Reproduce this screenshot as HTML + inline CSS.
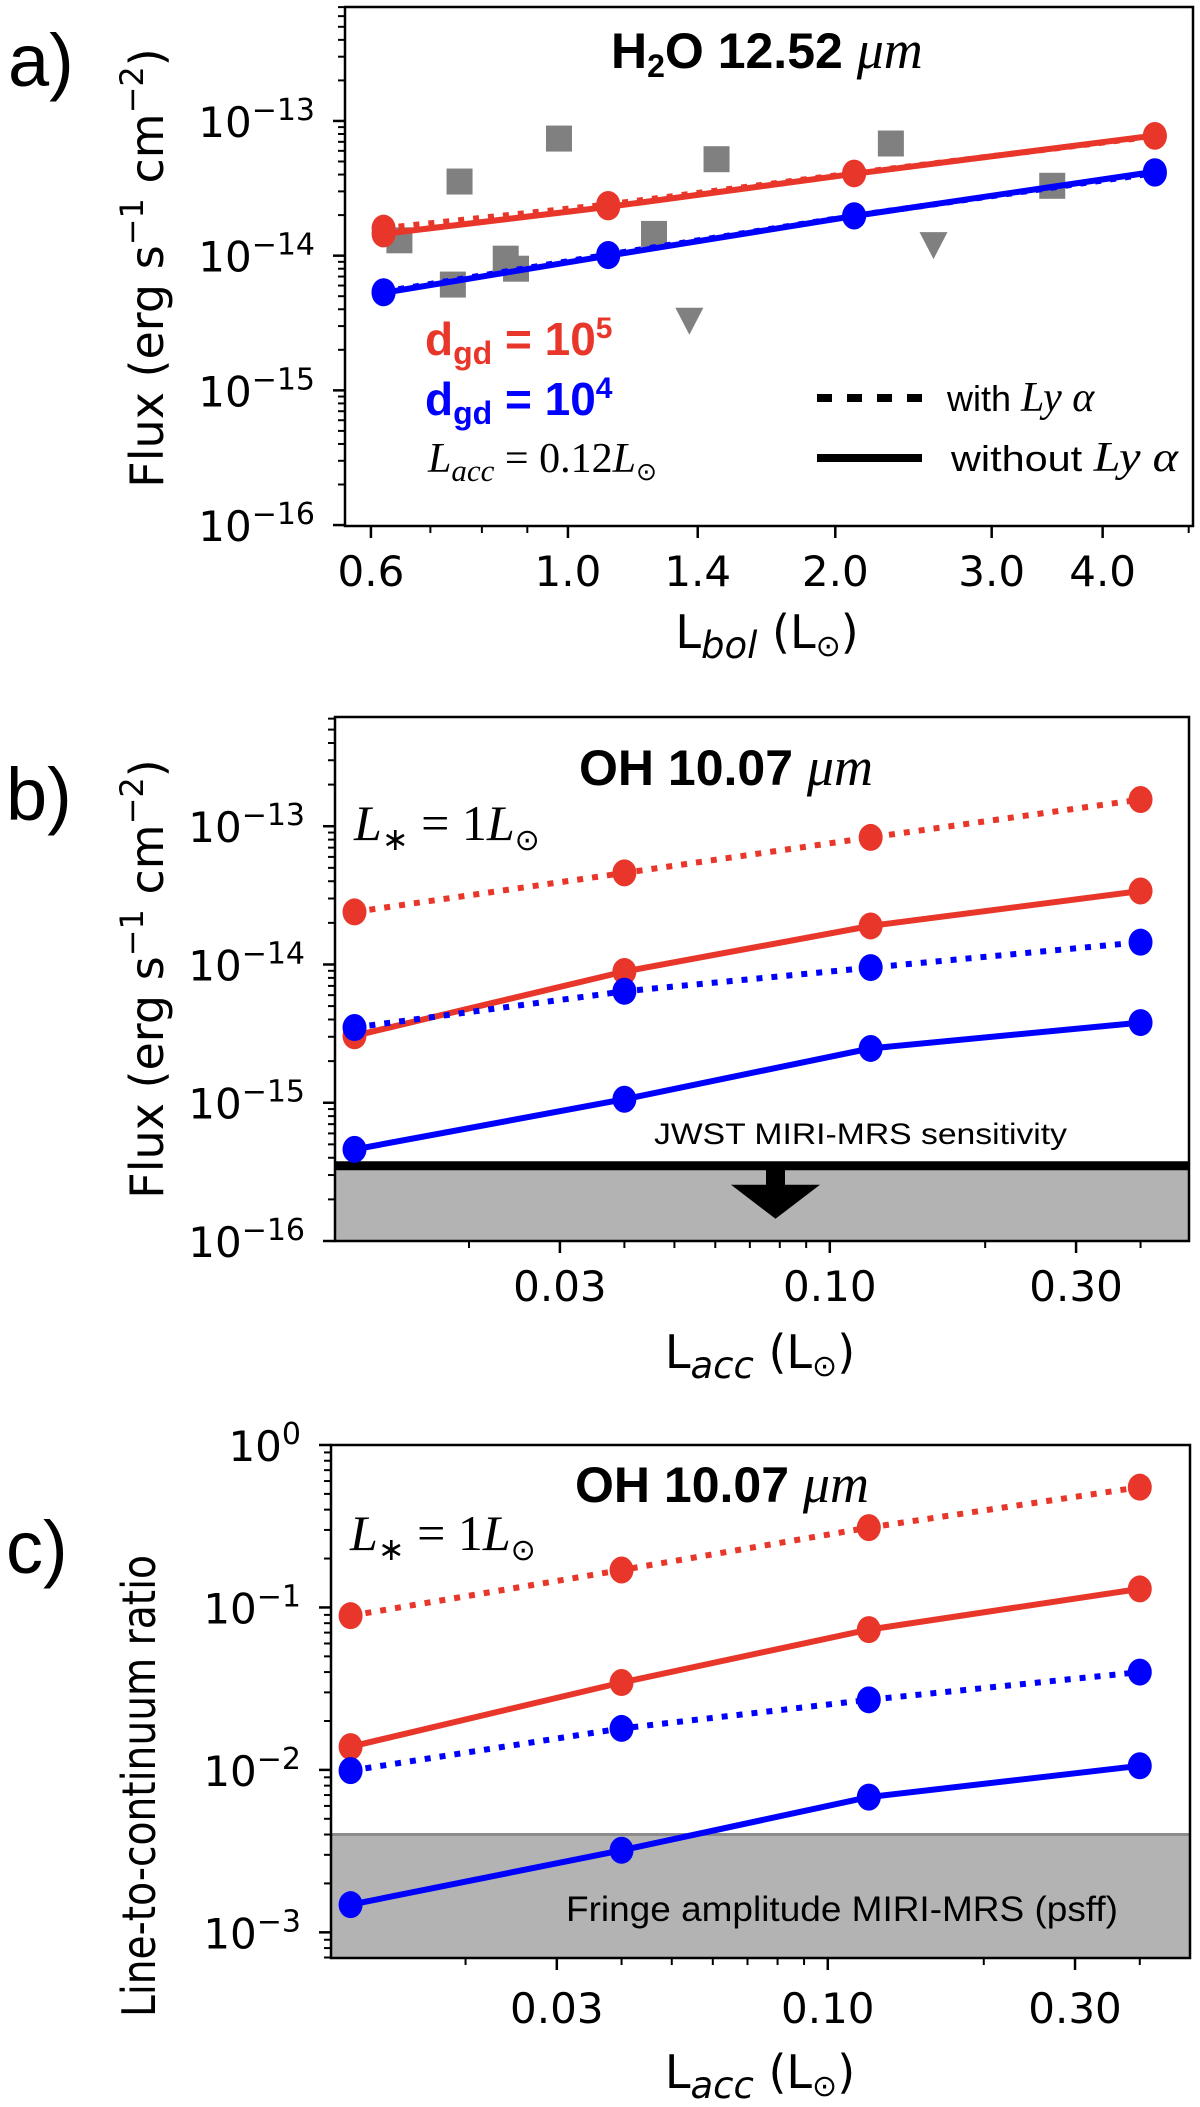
<!DOCTYPE html>
<html><head><meta charset="utf-8">
<style>
html,body{margin:0;padding:0;background:#fff;}
svg{display:block;}
.tick{font-family:"DejaVu Sans",sans-serif;font-size:42px;fill:#000;}
.ttl{font-family:"DejaVu Sans",sans-serif;font-size:46px;fill:#000;}
.ser{font-family:"Liberation Serif",serif;font-style:italic;}
</style></head>
<body>
<svg id="fig" width="1200" height="2107" viewBox="0 0 1200 2107" xmlns="http://www.w3.org/2000/svg">
  <g id="panelA"></g>
  <g id="panelB"></g>
  <g id="panelC"></g>

  <text x="8" y="86" font-family="Liberation Sans, sans-serif" font-size="74">a)</text>
  <text x="6" y="820" font-family="Liberation Sans, sans-serif" font-size="74">b)</text>
  <text x="6" y="1573" font-family="Liberation Sans, sans-serif" font-size="74">c)</text>

  <text class="ttl" transform="translate(163,268) rotate(-90)" text-anchor="middle">Flux (erg s<tspan dy="-20" font-size="32">−1</tspan><tspan dy="20"> cm</tspan><tspan dy="-20" font-size="32">−2</tspan><tspan dy="20">)</tspan></text>
  <text class="ttl" transform="translate(163,979) rotate(-90)" text-anchor="middle">Flux (erg s<tspan dy="-20" font-size="32">−1</tspan><tspan dy="20"> cm</tspan><tspan dy="-20" font-size="32">−2</tspan><tspan dy="20">)</tspan></text>
  <text class="ttl" transform="translate(155,1786) rotate(-90)" text-anchor="middle" font-size="52" textLength="462" lengthAdjust="spacingAndGlyphs">Line-to-continuum ratio</text>

  <text class="ttl" x="767" y="648" text-anchor="middle" font-size="48">L<tspan dy="10" font-size="37" font-style="italic">bol</tspan><tspan dy="-10"> (L</tspan><tspan font-size="30" dy="8">⊙</tspan><tspan dy="-8">)</tspan></text>
  <text class="ttl" x="760" y="1368" text-anchor="middle" font-size="48">L<tspan dy="10" font-size="37" font-style="italic">acc</tspan><tspan dy="-10"> (L</tspan><tspan font-size="30" dy="8">⊙</tspan><tspan dy="-8">)</tspan></text>
  <text class="ttl" x="760" y="2088" text-anchor="middle" font-size="48">L<tspan dy="10" font-size="37" font-style="italic">acc</tspan><tspan dy="-10"> (L</tspan><tspan font-size="30" dy="8">⊙</tspan><tspan dy="-8">)</tspan></text>

  <text x="611" y="68" font-family="Liberation Sans, sans-serif" font-weight="bold" font-size="50">H<tspan font-size="32" dy="9">2</tspan><tspan dy="-9">O 12.52 </tspan><tspan class="ser" font-weight="normal" font-size="54">μm</tspan></text>
  <text x="579" y="785" font-family="Liberation Sans, sans-serif" font-weight="bold" font-size="50">OH 10.07 <tspan class="ser" font-weight="normal" font-size="54">μm</tspan></text>
  <text x="575" y="1502" font-family="Liberation Sans, sans-serif" font-weight="bold" font-size="50">OH 10.07 <tspan class="ser" font-weight="normal" font-size="54">μm</tspan></text>

  <text x="425" y="355" font-family="Liberation Sans, sans-serif" font-weight="bold" font-size="46" fill="#e8372a">d<tspan font-size="32" dy="9">gd</tspan><tspan dy="-9"> = 10</tspan><tspan font-size="30" dy="-17">5</tspan></text>
  <text x="425" y="415" font-family="Liberation Sans, sans-serif" font-weight="bold" font-size="46" fill="#0000ff">d<tspan font-size="32" dy="9">gd</tspan><tspan dy="-9"> = 10</tspan><tspan font-size="30" dy="-17">4</tspan></text>
  <text x="428" y="472" font-family="Liberation Serif, serif" font-size="42"><tspan font-style="italic">L</tspan><tspan font-style="italic" font-size="31" dy="9">acc</tspan><tspan dy="-9"> = 0.12</tspan><tspan font-style="italic">L</tspan><tspan font-family="DejaVu Sans, sans-serif" font-size="25" dy="8">⊙</tspan></text>
  <line x1="817" y1="398" x2="922" y2="398" stroke="#000" stroke-width="8" stroke-dasharray="15 15"/>
  <text x="947" y="411" font-family="Liberation Sans, sans-serif" font-size="36">with <tspan class="ser" font-size="42">Ly α</tspan></text>
  <line x1="817" y1="458" x2="922" y2="458" stroke="#000" stroke-width="8"/>
  <text x="951" y="471" font-family="Liberation Sans, sans-serif" font-size="36" textLength="227" lengthAdjust="spacingAndGlyphs">without <tspan class="ser" font-size="42">Ly α</tspan></text>

  <text x="354" y="840" font-family="Liberation Serif, serif" font-size="50"><tspan font-style="italic">L</tspan><tspan font-size="32" dy="10">∗</tspan><tspan dy="-10"> = 1</tspan><tspan font-style="italic">L</tspan><tspan font-family="DejaVu Sans, sans-serif" font-size="30" dy="10">⊙</tspan></text>
  <text x="350" y="1550" font-family="Liberation Serif, serif" font-size="50"><tspan font-style="italic">L</tspan><tspan font-size="32" dy="10">∗</tspan><tspan dy="-10"> = 1</tspan><tspan font-style="italic">L</tspan><tspan font-family="DejaVu Sans, sans-serif" font-size="30" dy="10">⊙</tspan></text>
</svg>
<script>
const aLbol = [0.62, 1.11, 2.1, 4.58];
const aRedSolid = [1.45e-14, 2.3e-14, 4.05e-14, 7.8e-14];
const aRedDotted = [1.6e-14, 2.4e-14, 4.1e-14, 7.7e-14];
const aBlueSolid = [5.3e-15, 1.0e-14, 1.97e-14, 4.2e-14];
const aBlueDotted = [5.4e-15, 1.02e-14, 1.98e-14, 4.1e-14];
const obsSqX = [0.646, 0.755, 0.977, 0.742, 0.851, 0.874, 1.47, 1.25, 2.31, 3.51];
const obsSqY = [1.3e-14, 3.55e-14, 7.4e-14, 6.1e-15, 9.5e-15, 8e-15, 5.2e-14, 1.45e-14, 6.8e-14, 3.3e-14];
const obsTriX = [1.37, 2.58];
const obsTriY = [3.4e-15, 1.24e-14];
const aXTicks = [0.6, 1.0, 1.4, 2.0, 3.0, 4.0];
const aXTickLabels = ["0.6", "1.0", "1.4", "2.0", "3.0", "4.0"];
const aXMinor = [0.7, 0.8, 0.9, 5.0];

const lacc = [0.012, 0.04, 0.12, 0.4];
const bRedDotted = [2.4e-14, 4.6e-14, 8.3e-14, 1.56e-13];
const bRedSolid = [3.05e-15, 8.9e-15, 1.9e-14, 3.4e-14];
const bBlueDotted = [3.5e-15, 6.4e-15, 9.5e-15, 1.45e-14];
const bBlueSolid = [4.6e-16, 1.06e-15, 2.47e-15, 3.8e-15];
const bSensitivity = [3.5e-16];

const cRedDotted = [0.089, 0.17, 0.31, 0.55];
const cRedSolid = [0.0139, 0.0345, 0.073, 0.13];
const cBlueDotted = [0.0099, 0.018, 0.027, 0.04];
const cBlueSolid = [0.00148, 0.0032, 0.0068, 0.0106];
const cFringe = [0.004];

const accXTicks = [0.03, 0.1, 0.3];
const accXTickLabels = ["0.03", "0.10", "0.30"];
const accXMinor = [0.02, 0.04, 0.05, 0.06, 0.07, 0.08, 0.09, 0.2, 0.4];

const NS = 'http://www.w3.org/2000/svg';
const RED = '#e8372a', BLUE = '#0000ff', GRAY = '#808080';
function mk(tag, parent, attrs) {
  const e = document.createElementNS(NS, tag);
  for (const k in attrs) e.setAttribute(k, attrs[k]);
  parent.appendChild(e);
  return e;
}
function makeAxes(L, R, T, B, xmin, xmax, ylmin, ylmax) {
  const lx0 = Math.log10(xmin), lx1 = Math.log10(xmax);
  return {
    L, R, T, B, ylmin, ylmax,
    x: v => L + (Math.log10(v) - lx0) / (lx1 - lx0) * (R - L),
    y: v => B - (Math.log10(v) - ylmin) / (ylmax - ylmin) * (B - T)
  };
}
function drawYAxis(g, ax, name) {
  for (let d = Math.floor(ax.ylmin); d <= Math.ceil(ax.ylmax); d++) {
    for (let m = 1; m <= 9; m++) {
      const v = m * Math.pow(10, d);
      const lv = Math.log10(v);
      if (lv < ax.ylmin - 1e-6 || lv > ax.ylmax + 1e-6) continue;
      const yy = ax.y(v);
      const len = m === 1 ? 12 : 7;
      const t = mk('line', g, {x1: ax.L - len, x2: ax.L, y1: yy, y2: yy, stroke: '#000', 'stroke-width': m === 1 ? 2.5 : 2});
      
      
      if (m === 1) {
        const tx = mk('text', g, {x: ax.L - 30, y: yy + 16, 'text-anchor': 'end', class: 'tick'});
        
        
        const s1 = mk('tspan', tx, {});
        s1.textContent = '10';
        const s2 = mk('tspan', tx, {dy: -17, 'font-size': 30});
        s2.textContent = d === 0 ? '0' : '−' + Math.abs(d);
      }
    }
  }
}
function drawXAxis(g, ax, majors, labels, minors, labelY, name) {
  majors.forEach((v, i) => {
    const xx = ax.x(v);
    const t = mk('line', g, {x1: xx, x2: xx, y1: ax.B, y2: ax.B + 12, stroke: '#000', 'stroke-width': 2.5});
    
    
    const tx = mk('text', g, {x: xx, y: labelY, 'text-anchor': 'middle', class: 'tick'});
    
    
    tx.textContent = labels[i];
  });
  minors.forEach(v => {
    const xx = ax.x(v);
    if (xx < ax.L || xx > ax.R) return;
    const t = mk('line', g, {x1: xx, x2: xx, y1: ax.B, y2: ax.B + 7, stroke: '#000', 'stroke-width': 2});
    
    
  });
}
function drawFrame(g, ax, name) {
  const r = mk('rect', g, {x: ax.L, y: ax.T, width: ax.R - ax.L, height: ax.B - ax.T, fill: 'none', stroke: '#000', 'stroke-width': 2.5});
  
  
}
function drawSeries(g, ax, xs, ys, color, dotted, name) {
  const d = xs.map((v, i) => (i ? 'L' : 'M') + ax.x(v).toFixed(1) + ' ' + ax.y(ys[i]).toFixed(1)).join(' ');
  const attrs = {d: d, fill: 'none', stroke: color, 'stroke-width': 6};
  if (dotted) attrs['stroke-dasharray'] = '6 9';
  const p = mk('path', g, attrs);
  
  
  xs.forEach((v, i) => {
    const c = mk('ellipse', g, {cx: ax.x(v), cy: ax.y(ys[i]), rx: 12, ry: 13.5, fill: color});
    
    
  });
}

(function () {
  const g = document.getElementById('panelA');
  const ax = makeAxes(345, 1193, 7, 526, 0.561, 5.056, -16.007, -12.154);
  obsSqX.forEach((v, i) => {
    const s = mk('rect', g, {x: ax.x(v) - 13, y: ax.y(obsSqY[i]) - 13, width: 26, height: 26, fill: GRAY});
    
    
  });
  obsTriX.forEach((v, i) => {
    const cx = ax.x(v), cy = ax.y(obsTriY[i]);
    const t = mk('polygon', g, {points: `${cx - 14},${cy - 11} ${cx + 14},${cy - 11} ${cx},${cy + 16}`, fill: GRAY});
    
    
  });
  drawSeries(g, ax, aLbol, aRedDotted, RED, true, 'a-red-with-lya');
  drawSeries(g, ax, aLbol, aBlueDotted, BLUE, true, 'a-blue-with-lya');
  drawSeries(g, ax, aLbol, aRedSolid, RED, false, 'a-red-without-lya');
  drawSeries(g, ax, aLbol, aBlueSolid, BLUE, false, 'a-blue-without-lya');
  drawFrame(g, ax, 'a');
  drawYAxis(g, ax, 'a');
  drawXAxis(g, ax, aXTicks, aXTickLabels, aXMinor, 586, 'a');
})();

(function () {
  const g = document.getElementById('panelB');
  const ax = makeAxes(335, 1189, 717, 1241, 0.011, 0.4965, -16, -12.21);
  const ys = ax.y(bSensitivity[0]);
  const band = mk('rect', g, {x: ax.L, y: ys, width: ax.R - ax.L, height: ax.B - ys, fill: '#b3b3b3'});
  
  
  const ln = mk('line', g, {x1: ax.L, x2: ax.R, y1: ys, y2: ys, stroke: '#000', 'stroke-width': 9});
  
  
  const stem = mk('rect', g, {x: 766, y: ys, width: 19, height: 20, fill: '#000'});
  
  
  const head = mk('polygon', g, {points: `${731},${ys + 19} ${820},${ys + 19} ${775.5},${ys + 53}`, fill: '#000'});
  
  
  const lab = mk('text', g, {x: 654, y: 1144, 'font-family': 'Liberation Sans, sans-serif', 'font-size': 30, textLength: 413, lengthAdjust: 'spacingAndGlyphs'});
  
  
  lab.textContent = 'JWST MIRI-MRS sensitivity';
  drawSeries(g, ax, lacc, bRedDotted, RED, true, 'b-red-with-lya');
  drawSeries(g, ax, lacc, bRedSolid, RED, false, 'b-red-without-lya');
  drawSeries(g, ax, lacc, bBlueDotted, BLUE, true, 'b-blue-with-lya');
  drawSeries(g, ax, lacc, bBlueSolid, BLUE, false, 'b-blue-without-lya');
  drawFrame(g, ax, 'b');
  drawYAxis(g, ax, 'b');
  drawXAxis(g, ax, accXTicks, accXTickLabels, accXMinor, 1301, 'b');
})();

(function () {
  const g = document.getElementById('panelC');
  const ax = makeAxes(331, 1190, 1445, 1958, 0.011, 0.5, -3.158, 0);
  const yf = ax.y(cFringe[0]);
  const band = mk('rect', g, {x: ax.L, y: yf, width: ax.R - ax.L, height: ax.B - yf, fill: '#b3b3b3'});
  
  
  const ln = mk('line', g, {x1: ax.L, x2: ax.R, y1: yf, y2: yf, stroke: '#8c8c8c', 'stroke-width': 3});
  
  
  const lab = mk('text', g, {x: 566, y: 1921, 'font-family': 'Liberation Sans, sans-serif', 'font-size': 35, textLength: 552, lengthAdjust: 'spacingAndGlyphs'});
  
  
  lab.textContent = 'Fringe amplitude MIRI-MRS (psff)';
  drawSeries(g, ax, lacc, cRedDotted, RED, true, 'c-red-with-lya');
  drawSeries(g, ax, lacc, cRedSolid, RED, false, 'c-red-without-lya');
  drawSeries(g, ax, lacc, cBlueDotted, BLUE, true, 'c-blue-with-lya');
  drawSeries(g, ax, lacc, cBlueSolid, BLUE, false, 'c-blue-without-lya');
  drawFrame(g, ax, 'c');
  drawYAxis(g, ax, 'c');
  drawXAxis(g, ax, accXTicks, accXTickLabels, accXMinor, 2023, 'c');
})();
</script>
</body></html>
